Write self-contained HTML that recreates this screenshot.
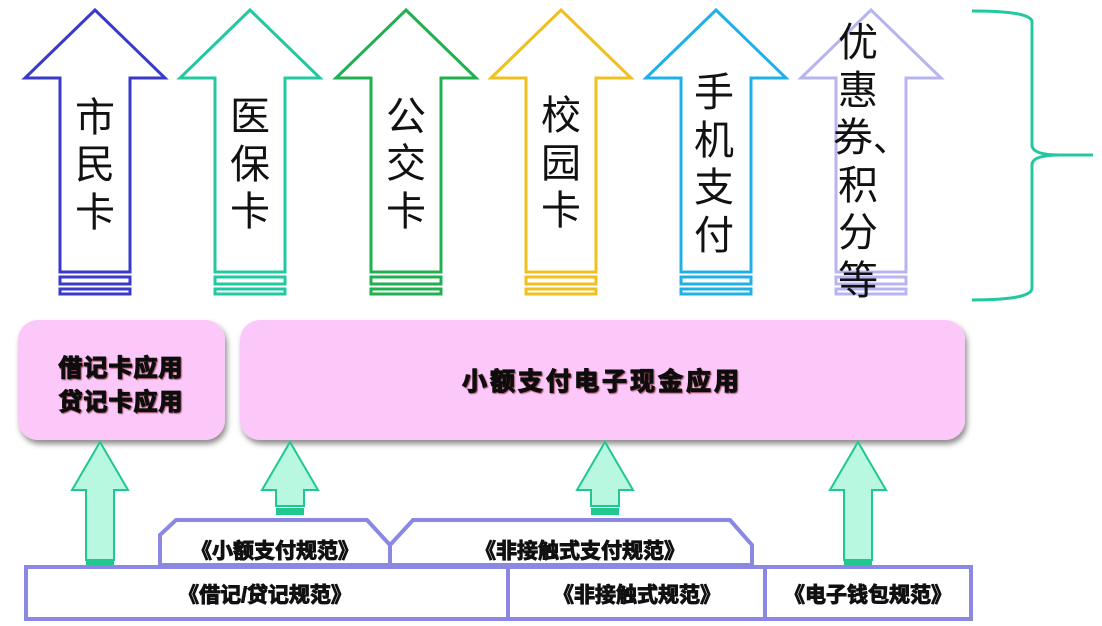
<!DOCTYPE html>
<html><head><meta charset="utf-8"><style>
html,body{margin:0;padding:0;background:#fff;}
svg{display:block;}
text{font-family:"Liberation Sans","Noto Sans CJK SC",sans-serif;}
</style></head><body>
<svg width="1102" height="626" viewBox="0 0 1102 626" xmlns="http://www.w3.org/2000/svg">
<defs>
<filter id="sh" x="-10%" y="-10%" width="130%" height="130%"><feDropShadow dx="2" dy="4" stdDeviation="3" flood-color="#000" flood-opacity="0.45"/></filter>
<filter id="ts"><feDropShadow dx="1" dy="1" stdDeviation="0.6" flood-color="#600" flood-opacity="0.6"/></filter>
</defs>
<g fill="#fff" stroke-width="3">
<g stroke="#3a3ac8"><polygon points="95,10 165,78 130,78 130,272 60,272 60,78 25,78"/><rect x="60" y="277" width="70" height="7"/><rect x="60" y="289" width="70" height="5"/></g>
<g stroke="#22c8a0"><polygon points="250,10 320,78 285,78 285,272 215,272 215,78 180,78"/><rect x="215" y="277" width="70" height="7"/><rect x="215" y="289" width="70" height="5"/></g>
<g stroke="#20b050"><polygon points="406,10 476,78 441,78 441,272 371,272 371,78 336,78"/><rect x="371" y="277" width="70" height="7"/><rect x="371" y="289" width="70" height="5"/></g>
<g stroke="#f0c020"><polygon points="561,10 631,78 596,78 596,272 526,272 526,78 491,78"/><rect x="526" y="277" width="70" height="7"/><rect x="526" y="289" width="70" height="5"/></g>
<g stroke="#20b0e8"><polygon points="716,10 786,78 751,78 751,272 681,272 681,78 646,78"/><rect x="681" y="277" width="70" height="7"/><rect x="681" y="289" width="70" height="5"/></g>
<g stroke="#b8b4f0"><polygon points="871,10 941,78 906,78 906,272 836,272 836,78 801,78"/><rect x="836" y="277" width="70" height="7"/><rect x="836" y="289" width="70" height="5"/></g>
</g>
<g font-size="40" fill="#111" text-anchor="middle">
<text x="95" y="131">市</text><text x="95" y="178">民</text><text x="95" y="226">卡</text>
<text x="250" y="130">医</text><text x="250" y="178">保</text><text x="250" y="225">卡</text>
<text x="406" y="130">公</text><text x="406" y="177">交</text><text x="406" y="225">卡</text>
<text x="561" y="129">校</text><text x="561" y="177">园</text><text x="561" y="224">卡</text>
<text x="714" y="106">手</text><text x="714" y="154">机</text><text x="714" y="201">支</text><text x="714" y="249">付</text>
<text x="858" y="56">优</text><text x="858" y="104">惠</text><text x="833" y="151" text-anchor="start">券<tspan font-size="36">、</tspan></text><text x="858" y="199">积</text><text x="858" y="246">分</text><text x="858" y="294">等</text>
</g>
<path d="M972,11 Q1032,11 1032,22 L1032,145 Q1032,155 1060,155 L1093,155 M1060,155 Q1032,155 1032,165 L1032,288 Q1032,300 972,300" fill="none" stroke="#22c8a0" stroke-width="3"/>
<rect x="18" y="320" width="207" height="120" rx="20" fill="#fcc8fa" filter="url(#sh)"/>
<rect x="240" y="320" width="725" height="120" rx="20" fill="#fcc8fa" filter="url(#sh)"/>
<g font-size="24" font-weight="bold" fill="#111" stroke="#111" stroke-width="1.2" filter="url(#ts)" letter-spacing="1">
<text x="121" y="376" text-anchor="middle">借记卡应用</text>
<text x="121" y="410" text-anchor="middle">贷记卡应用</text>
<text x="602" y="390" text-anchor="middle" font-size="25" letter-spacing="3">小额支付电子现金应用</text>
</g>
<g fill="#b8f8e0" stroke="#20c890" stroke-width="2">
<polygon points="100,442 128,490 114,490 114,560 86,560 86,490 72,490"/><rect x="86" y="561" width="28" height="6" fill="#20c890" stroke="none"/>
<polygon points="290,442 318,490 304,490 304,506 276,506 276,490 262,490"/><rect x="276" y="508" width="28" height="7" fill="#20c890" stroke="none"/>
<polygon points="605,442 633,490 619,490 619,506 591,506 591,490 577,490"/><rect x="591" y="508" width="28" height="7" fill="#20c890" stroke="none"/>
<polygon points="858,442 886,490 872,490 872,560 844,560 844,490 830,490"/><rect x="844" y="561" width="28" height="6" fill="#20c890" stroke="none"/>
</g>
<g fill="#fff" stroke="#8a88e0" stroke-width="4">
<polygon points="160,565 160,535 176,520 367,520 390,545 390,565"/>
<polygon points="390,565 390,545 413,520 730,520 752,545 752,565"/>
<rect x="26" y="567" width="482" height="52"/>
<rect x="508" y="567" width="257" height="52"/>
<rect x="765" y="567" width="206" height="52"/>
</g>
<g font-size="21" font-weight="bold" fill="#111" stroke="#111" stroke-width="1" text-anchor="middle">
<text x="275" y="558">《小额支付规范》</text>
<text x="580" y="558">《非接触式支付规范》</text>
<text x="265" y="602">《借记/贷记规范》</text>
<text x="637" y="602">《非接触式规范》</text>
<text x="868" y="602">《电子钱包规范》</text>
</g>
</svg>
</body></html>
